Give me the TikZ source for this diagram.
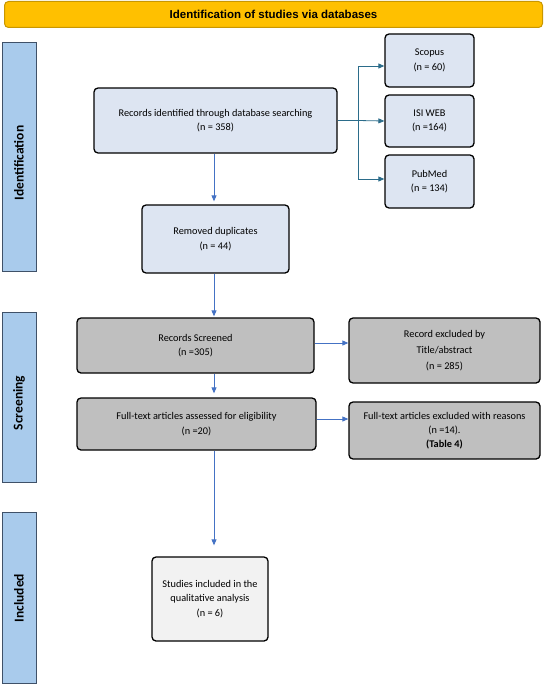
\documentclass[tikz,border=0pt]{standalone}
\usepackage{fontspec}
\setmainfont{Carlito}
\newfontfamily\arialfont{Liberation Sans}
\usetikzlibrary{arrows.meta}
\definecolor{bannerfill}{HTML}{FFC000}
\definecolor{bannerdraw}{HTML}{C99700}
\definecolor{barfill}{HTML}{A9CBEC}
\definecolor{bardraw}{HTML}{3F5168}
\definecolor{idfill}{HTML}{DDE5F2}
\definecolor{scrfill}{HTML}{BFBFBF}
\definecolor{incfill}{HTML}{F2F2F2}
\definecolor{bluearr}{HTML}{4472C4}
\definecolor{tealarr}{HTML}{2B6C8A}
\tikzset{
  box/.style={draw=black, line width=1.3pt, rounded corners=4pt, align=center,
    font=\fontsize{10.3}{14.5}\selectfont, inner sep=2pt},
  idbox/.style={box, fill=idfill},
  scrbox/.style={box, fill=scrfill},
  incbox/.style={box, fill=incfill},
  sidebar/.style={draw=bardraw, line width=1pt, fill=barfill, minimum width=34pt},
  sidelabel/.style={rotate=90, font=\fontsize{13.5}{15}\selectfont\bfseries},
  barr/.style={draw=bluearr, line width=0.8pt, -{Triangle[length=6pt,width=5pt]}},
  tarr/.style={draw=tealarr, line width=0.8pt, -{Triangle[length=6pt,width=5pt]}},
}
\begin{document}
\begin{tikzpicture}[x=1pt,y=-1pt]
\useasboundingbox (0,0) rectangle (545,685);
% banner
\node[draw=bannerdraw, line width=1pt, fill=bannerfill, rounded corners=4pt,
  minimum width=538pt, minimum height=26pt, font=\arialfont\fontsize{11.5}{13}\selectfont\bfseries]
  (banner) at (273.5,14.5) {Identification of studies via databases};
% side bars
\node[sidebar, minimum height=228pt] (idbar) at (19,157) {};
\node[sidelabel] (idlab) at (19,163) {Identification};
\node[sidebar, minimum height=170pt] (scrbar) at (19,397) {};
\node[sidelabel] (scrlab) at (19,403) {Screening};
\node[sidebar, minimum height=171pt] (incbar) at (19,597.5) {};
\node[sidelabel] (inclab) at (19,598) {Included};
% identification boxes
\node[idbox, minimum width=243pt, minimum height=65pt] (rec) at (215.5,120.5)
  {Records identified through database searching\\(n = 358)};
\node[idbox, minimum width=89pt, minimum height=53pt] (scopus) at (429.5,60.5)
  {Scopus\\(n = 60)};
\node[idbox, minimum width=89pt, minimum height=52pt] (isi) at (429.5,121)
  {ISI WEB\\(n =164)};
\node[idbox, minimum width=89pt, minimum height=53pt] (pubmed) at (429.5,181.5)
  {PubMed\\(n = 134)};
\node[idbox, minimum width=147pt, minimum height=68pt] (removed) at (215.5,239)
  {Removed duplicates\\(n = 44)};
% screening boxes
\node[scrbox, minimum width=237pt, minimum height=55pt] (screened) at (195.5,345.5)
  {Records Screened\\(n =305)};
\node[scrbox, minimum width=239pt, minimum height=52pt] (fulltext) at (196.5,424)
  {Full-text articles assessed for eligibility\\(n =20)};
\node[scrbox, minimum width=191pt, minimum height=65pt, font=\fontsize{10.3}{16}\selectfont] (excl1) at (444.5,350.5)
  {Record excluded by\\Title/abstract\\(n = 285)};
\node[scrbox, minimum width=191pt, minimum height=57pt, font=\fontsize{10.3}{14}\selectfont] (excl2) at (444.5,430.5)
  {Full-text articles excluded with reasons\\(n =14).\\\textbf{(Table 4)}};
% included
\node[incbox, minimum width=116pt, minimum height=84pt, font=\fontsize{10.3}{14.5}\selectfont] (studies) at (210,599)
  {Studies included in the\\qualitative analysis\\(n = 6)};
% connectors
\coordinate (vx) at (214,0);
\coordinate (br) at (358,120.5);
\draw[barr, shorten >=3pt] (rec.south -| vx) -- (removed.north -| vx);
\draw[barr, shorten >=1pt] (removed.south -| vx) -- (screened.north -| vx);
\draw[barr, shorten >=4pt] (screened.south -| vx) -- (fulltext.north -| vx);
\draw[barr, shorten >=11pt] (fulltext.south -| vx) -- (studies.north -| vx);
\draw[barr] ([yshift=2.5pt]screened.east) -- ([yshift=2.5pt]screened.east -| excl1.west);
\draw[barr] ([yshift=5pt]fulltext.east) -- ([yshift=5pt]fulltext.east -| excl2.west);
\draw[draw=tealarr, line width=1.2pt] (rec.east) -- (br);
\draw[tarr] (br) -- (isi.west);
\draw[tarr] (br) |- ([yshift=-5.5pt]scopus.west);
\draw[tarr] (br) |- ([yshift=2.5pt]pubmed.west);
\end{tikzpicture}
\end{document}
